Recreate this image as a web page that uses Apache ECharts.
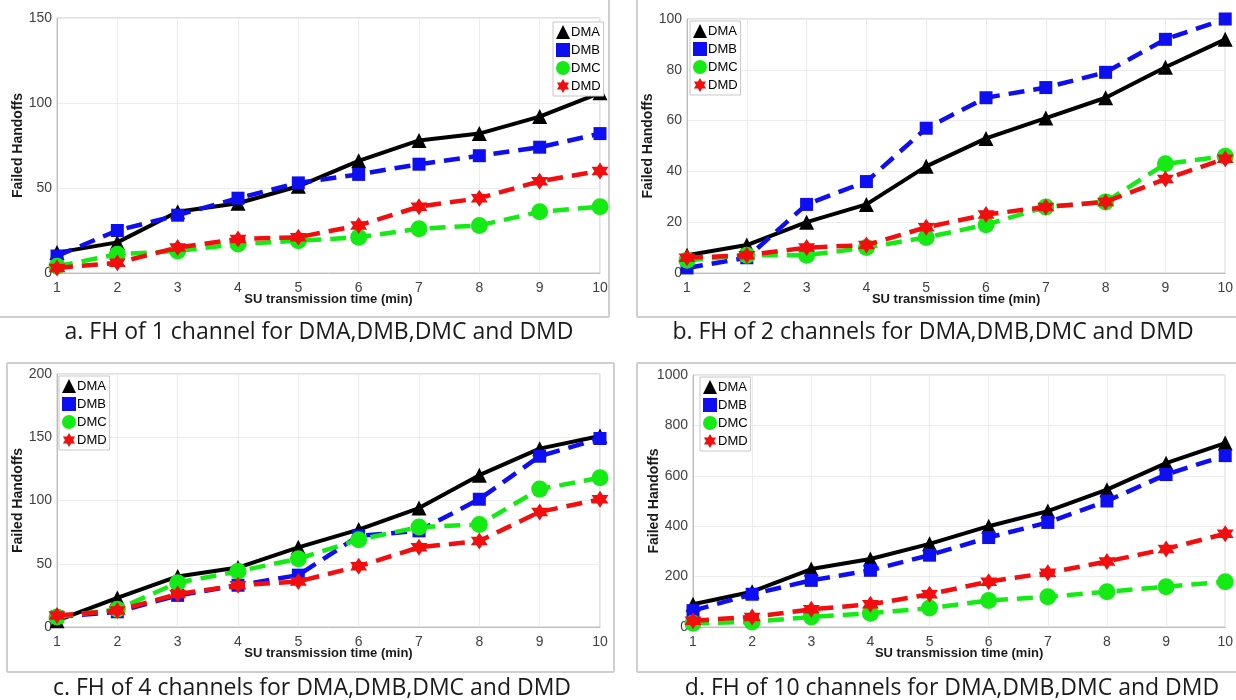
<!DOCTYPE html>
<html>
<head>
<meta charset="utf-8">
<script src="https://cdn.jsdelivr.net/npm/echarts@6/dist/echarts.min.js"></script>
<style>
  html, body { margin: 0; padding: 0; background: #fff; }
  #main { width: 1236px; height: 700px; }
</style>
</head>
<body>
<div id="main"></div>
<script>
'use strict';

// x values (SU transmission time, min)
const times = [1, 2, 3, 4, 5, 6, 7, 8, 9, 10];
const names = ['DMA', 'DMB', 'DMC', 'DMD'];

// a. 1 channel
const ch1DMA = [12, 18, 36, 41, 51, 66, 78, 82, 92, 106];
const ch1DMB = [10, 25, 34, 44, 53, 58, 64, 69, 74, 82];
const ch1DMC = [4, 11, 13, 17, 19, 21, 26, 28, 36, 39];
const ch1DMD = [3, 6, 15, 20, 21, 28, 39, 44, 54, 60];

// b. 2 channels
const ch2DMA = [7, 11, 20, 27, 42, 53, 61, 69, 81, 92];
const ch2DMB = [2, 6, 27, 36, 57, 69, 73, 79, 92, 100];
const ch2DMC = [5, 7, 7, 10, 14, 19, 26, 28, 43, 46];
const ch2DMD = [6, 7, 10, 11, 18, 23, 26, 28, 37, 45];

// c. 4 channels
const ch4DMA = [5, 23, 40, 47, 63, 77, 94, 120, 141, 151];
const ch4DMB = [8, 12, 25, 33, 41, 72, 76, 101, 135, 149];
const ch4DMC = [8, 14, 35, 44, 54, 69, 79, 81, 109, 118];
const ch4DMD = [9, 13, 26, 33, 36, 48, 63, 68, 91, 101];

// d. 10 channels
const ch10DMA = [90, 140, 230, 270, 330, 400, 460, 545, 650, 730];
const ch10DMB = [65, 130, 185, 225, 285, 355, 415, 500, 605, 680];
const ch10DMC = [15, 20, 40, 55, 75, 105, 120, 140, 160, 180];
const ch10DMD = [25, 40, 70, 90, 130, 180, 215, 260, 310, 370];

// y axis ranges
const yMax = [150, 100, 200, 1000];
const yStep = [50, 20, 50, 200];

const captions = [
  'a. FH of 1 channel for DMA,DMB,DMC and DMD',
  'b. FH of 2 channels for DMA,DMB,DMC and DMD',
  'c. FH of 4 channels for DMA,DMB,DMC and DMD',
  'd. FH of 10 channels for DMA,DMB,DMC and DMD'
];

const panelData = [
  [ch1DMA, ch1DMB, ch1DMC, ch1DMD],
  [ch2DMA, ch2DMB, ch2DMC, ch2DMD],
  [ch4DMA, ch4DMB, ch4DMC, ch4DMD],
  [ch10DMA, ch10DMB, ch10DMC, ch10DMD]
];

const hexagram = 'path://M50,0L64.4,25L93.3,25L78.9,50L93.3,75L64.4,75L50,100L35.6,75L6.7,75L21.1,50L6.7,25L35.6,25Z';

const looks = {
  DMA: {color: '#000000', type: 'solid', symbol: 'triangle', size: 15, width: 4},
  DMB: {color: '#0e0ef2', type: [16, 9], symbol: 'rect', size: 13, width: 4.5},
  DMC: {color: '#14eb14', type: [16, 9], symbol: 'circle', size: 17, width: 4.5},
  DMD: {color: '#f20e0e', type: [16, 9], symbol: hexagram, size: 17, width: 4.5}
};

// plot boxes, legend spots, caption spots
const layout = [
  {left: 57, top: 18, width: 543, height: 255, legend: {left: 553, top: 22}, cap: [319, 332]},
  {left: 687, top: 19, width: 544, height: 254, legend: {left: 690, top: 21}, cap: [933, 332]},
  {left: 57, top: 374, width: 543, height: 253, legend: {left: 59, top: 376}, cap: [312, 688]},
  {left: 693, top: 375, width: 538, height: 252, legend: {left: 700, top: 377}, cap: [952, 688]}
];

const font = '"Liberation Sans", Arial, sans-serif';

const option = {
  animation: false,
  backgroundColor: '#fff',
  grid: [],
  xAxis: [],
  yAxis: [],
  legend: [],
  series: [],
  graphic: []
};

layout.forEach((l, i) => {
  option.grid.push({
    left: l.left, top: l.top, width: l.width, height: l.height,
    show: true, borderColor: '#c4c4c4', borderWidth: 1, backgroundColor: '#fff'
  });
  option.xAxis.push({
    type: 'value', gridIndex: i, min: 1, max: 10, interval: 1,
    axisLine: {lineStyle: {color: '#bdbdbd'}},
    axisTick: {show: false},
    splitLine: {lineStyle: {color: '#ececec'}},
    axisLabel: {color: '#404040', fontSize: 14, fontFamily: font, margin: 8},
    name: 'SU transmission time (min)', nameLocation: 'middle', nameGap: 20,
    nameMoveOverlap: false,
    nameTextStyle: {color: '#1a1a1a', fontSize: 13, fontWeight: 'bold', fontFamily: font}
  });
  option.yAxis.push({
    type: 'value', gridIndex: i, min: 0, max: yMax[i], interval: yStep[i],
    axisLine: {show: true, lineStyle: {color: '#bdbdbd'}},
    axisTick: {show: false},
    splitLine: {lineStyle: {color: '#ececec'}},
    axisLabel: {color: '#404040', fontSize: 14, fontFamily: font, margin: 5, formatter: (v) => String(v)},
    name: 'Failed Handoffs', nameLocation: 'middle', nameGap: 32,
    nameMoveOverlap: false,
    nameTextStyle: {color: '#1a1a1a', fontSize: 14, fontWeight: 'bold', fontFamily: font}
  });
  option.legend.push({
    left: l.legend.left, top: l.legend.top, orient: 'vertical',
    backgroundColor: '#fff', borderColor: '#c8c8c8', borderWidth: 1,
    padding: [3, 3], itemGap: 4, itemWidth: 14, itemHeight: 14,
    selectedMode: false,
    textStyle: {color: '#000', fontSize: 13, fontFamily: font, padding: [0, 0, 0, -4]},
    data: names.map((n) => ({name: n, icon: looks[n].symbol}))
  });
  names.forEach((n, k) => {
    const s = looks[n];
    option.series.push({
      name: n, type: 'line', xAxisIndex: i, yAxisIndex: i,
      data: times.map((t, j) => [t, panelData[i][k][j]]),
      symbol: s.symbol, symbolSize: s.size, showSymbol: true,
      lineStyle: {color: s.color, width: s.width, type: s.type},
      itemStyle: {color: s.color},
      z: 2 + k
    });
  });
  option.graphic.push({
    type: 'text', x: l.cap[0], y: l.cap[1],
    style: {
      text: captions[i], fill: '#1a1a1a', font: '23px "Open Sans", sans-serif',
      align: 'center', verticalAlign: 'middle'
    }
  });
});

// panel frames
const frameStyle = {stroke: '#cfcfcf', lineWidth: 2};
[
  [0, 317, 609, 317], [609, 0, 609, 317],
  [637, 0, 637, 317], [637, 317, 1236, 317],
  [7, 363, 614, 363], [7, 363, 7, 672], [614, 363, 614, 672], [7, 672, 614, 672],
  [637, 363, 1236, 363], [637, 363, 637, 672], [637, 672, 1236, 672]
].forEach((p) => {
  option.graphic.push({
    type: 'line', z: -10, silent: true,
    shape: {x1: p[0], y1: p[1], x2: p[2], y2: p[3]},
    style: frameStyle
  });
});

const chart = echarts.init(document.getElementById('main'));
chart.setOption(option);
</script>
</body>
</html>
